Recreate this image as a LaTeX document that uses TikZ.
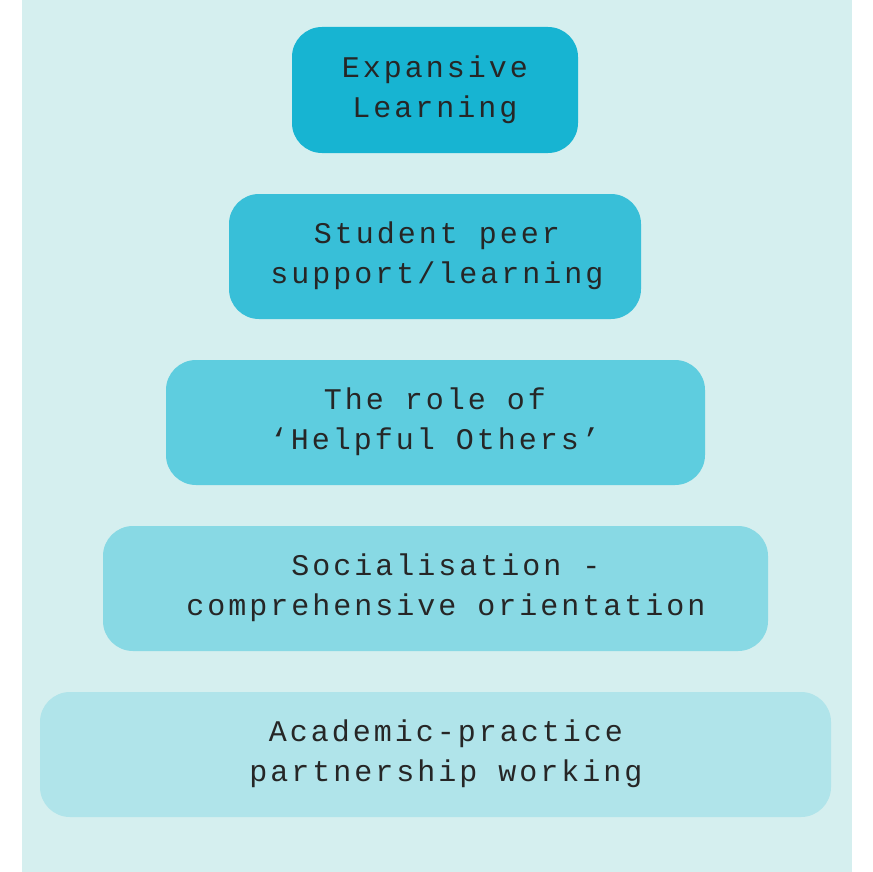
\documentclass[tikz,border=0pt]{standalone}
\usepackage{fontspec}
\setmainfont{Liberation Mono}[LetterSpace=10]
\begin{document}
\begin{tikzpicture}[x=1pt,y=-1pt,
  tier/.style={draw=none,rounded corners=30pt,text=black!85,font=\fontsize{30}{40}\selectfont,align=center}]
\useasboundingbox (0,0) rectangle (872,872);
\fill[white] (0,0) rectangle (872,872);
\fill[fill={rgb,255:red,213;green,239;blue,239}] (22,0) rectangle (852,872);
\definecolor{c1}{RGB}{23,180,210}
\definecolor{c2}{RGB}{56,191,216}
\definecolor{c3}{RGB}{94,205,223}
\definecolor{c4}{RGB}{136,217,228}
\definecolor{c5}{RGB}{176,228,234}
\fill[c1,rounded corners=30pt] (292,27) rectangle (578,153);
\fill[c2,rounded corners=30pt] (229,194) rectangle (641,319);
\fill[c3,rounded corners=30pt] (166,360) rectangle (705,485);
\fill[c4,rounded corners=30pt] (103,526) rectangle (768,651);
\fill[c5,rounded corners=30pt] (40,692) rectangle (831,817);
\node[tier] (t1) at (435,90) {Expansive\\Learning};
\node[tier] (t2) at (437,256) {Student peer\\support/learning};
\node[tier] (t3) at (435,422) {The role of\\‘Helpful Others’};
\node[tier] (t4) at (446,588) {Socialisation -\\comprehensive orientation};
\node[tier] (t5) at (446,754) {Academic-practice\\partnership working};
\end{tikzpicture}
\end{document}
